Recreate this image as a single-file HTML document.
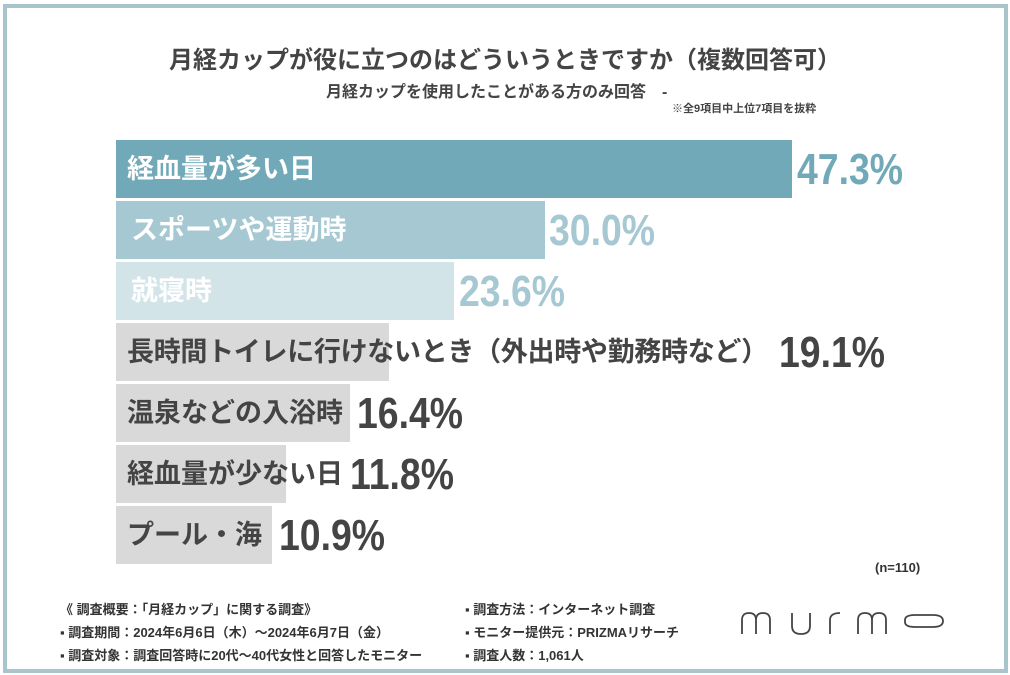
<!DOCTYPE html>
<html><head><meta charset="utf-8"><style>
body{margin:0;width:1010px;height:675px;background:#fff;position:relative;overflow:hidden;font-family:"Liberation Sans","Noto Sans CJK JP",sans-serif;}
.frame{position:absolute;left:3px;top:4px;width:997px;height:661px;border:4px solid #a9c5cc;}
.t{position:absolute;white-space:nowrap;font-weight:bold;color:#444;}
.bar{position:absolute;left:116px;height:58px;}
.lab{position:absolute;left:127px;height:58px;line-height:58px;font-size:27px;font-weight:bold;white-space:nowrap;}
.val{position:absolute;height:58px;line-height:60px;font-size:44px;font-weight:bold;white-space:nowrap;transform:scaleX(.85);transform-origin:left center;}
.f{position:absolute;font-size:13px;color:#333;white-space:nowrap;font-weight:bold;}
</style></head><body>
<div class="frame"></div>
<div class="t" style="left:0;width:1010px;text-align:center;top:40px;font-size:24px;">月経カップが役に立つのはどういうときですか（複数回答可）</div>
<div class="t" style="left:326px;top:78px;font-size:16px;">月経カップを使用したことがある方のみ回答　-</div>
<div class="t" style="left:672px;top:100px;font-size:11px;">※全9項目中上位7項目を抜粋</div>

<div class="bar" style="top:140px;width:676px;background:#72a9b8"></div>
<div class="lab" style="top:140px;color:#fff">経血量が多い日</div>
<div class="val" style="top:140px;left:797px;color:#72a9b8">47.3%</div>

<div class="bar" style="top:201px;width:429px;background:#a5c8d2"></div>
<div class="lab" style="top:201px;color:#fff;left:131px">スポーツや運動時</div>
<div class="val" style="top:201px;left:549px;color:#a5c8d2">30.0%</div>

<div class="bar" style="top:262px;width:338px;background:#d3e4e8"></div>
<div class="lab" style="top:262px;color:#fff;left:131px">就寝時</div>
<div class="val" style="top:262px;left:459px;color:#a5c8d2">23.6%</div>

<div class="bar" style="top:323px;width:273px;background:#d9d9d9"></div>
<div class="lab" style="top:323px;color:#444;letter-spacing:-0.3px">長時間トイレに行けないとき（外出時や勤務時など）</div>
<div class="val" style="top:323px;left:779px;color:#444">19.1%</div>

<div class="bar" style="top:384px;width:234px;background:#d9d9d9"></div>
<div class="lab" style="top:384px;color:#444">温泉などの入浴時</div>
<div class="val" style="top:384px;left:357px;color:#444">16.4%</div>

<div class="bar" style="top:445px;width:170px;background:#d9d9d9"></div>
<div class="lab" style="top:445px;color:#444">経血量が少ない日</div>
<div class="val" style="top:445px;left:350px;color:#444">11.8%</div>

<div class="bar" style="top:506px;width:156px;background:#d9d9d9"></div>
<div class="lab" style="top:506px;color:#444">プール・海</div>
<div class="val" style="top:506px;left:279px;color:#444">10.9%</div>

<div class="f" style="left:875px;top:560px;">(n=110)</div>
<div class="f" style="left:60px;top:599px;">《 調査概要：「月経カップ」に関する調査》</div>
<div class="f" style="left:60px;top:622px;">▪ 調査期間：2024年6月6日（木）〜2024年6月7日（金）</div>
<div class="f" style="left:60px;top:645px;">▪ 調査対象：調査回答時に20代〜40代女性と回答したモニター</div>
<div class="f" style="left:465px;top:599px;">▪ 調査方法：インターネット調査</div>
<div class="f" style="left:465px;top:622px;">▪ モニター提供元：PRIZMAリサーチ</div>
<div class="f" style="left:465px;top:645px;">▪ 調査人数：1,061人</div>
<svg style="position:absolute;left:740px;top:608px" width="210" height="30" viewBox="0 0 210 30" fill="none" stroke="#444" stroke-width="1.8">
<path d="M2 26 V12 Q2 5 9 5 Q16 5 16 12 V26 M16 12 Q16 5 23 5 Q30 5 30 12 V26"/>
<path d="M52 5 V18 Q52 26 61 26 Q70 26 70 18 V5"/>
<path d="M90 26 V12 Q90 5 100 5"/>
<path d="M118 26 V12 Q118 5 125 5 Q132 5 132 12 V26 M132 12 Q132 5 139 5 Q146 5 146 12 V26"/>
<path d="M165 12 Q165 7 175 7 H193 Q203 7 203 13 Q203 19 193 19 H175 Q165 19 165 14 Z"/>
</svg>
</body></html>
